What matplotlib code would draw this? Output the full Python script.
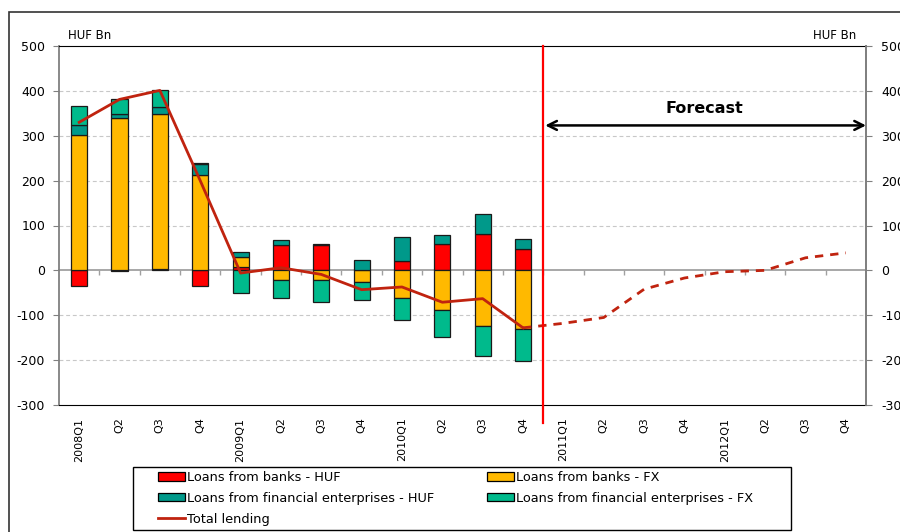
import numpy as np
import matplotlib.pyplot as plt
from matplotlib.patches import Patch, Rectangle
from matplotlib.lines import Line2D

# 四半期ラベル (2008Q1〜2012Q4)
quarters = ["2008Q1", "Q2", "Q3", "Q4", "2009Q1", "Q2", "Q3", "Q4",
            "2010Q1", "Q2", "Q3", "Q4", "2011Q1", "Q2", "Q3", "Q4",
            "2012Q1", "Q2", "Q3", "Q4"]

# 実績 (2008Q1〜2010Q4), HUF Bn
bank_huf = [-35, -2, 3, -35, 8, 56, 56, 0, 21, 58, 80, 48]
bank_fx = [301, 339, 345, 212, 21, -22, -22, -27, -61, -89, -124, -130]
fin_huf = [24, 10, 15, 25, 12, 12, 3, 23, 53, 20, 45, 22]
fin_fx = [41, 33, 38, 2, -50, -40, -48, -39, -50, -60, -66, -71]
total_actual = [330, 381, 401, 200, -6, 6, -9, -43, -37, -71, -63, -128]

# 予測 (2010Q4〜2012Q4)
total_forecast = [-128, -118, -105, -42, -17, -3, 0, 28, 39]

series = [
    ("Loans from banks - HUF", bank_huf, "#FF0000"),
    ("Loans from banks - FX", bank_fx, "#FFB900"),
    ("Loans from financial enterprises - HUF", fin_huf, "#00998A"),
    ("Loans from financial enterprises - FX", fin_fx, "#00BA8C"),
]
total_color = "#C0230F"

plt.rcParams["font.family"] = ["DejaVu Sans"]
plt.rcParams["axes.unicode_minus"] = False

fig = plt.figure(figsize=(9, 5.32), dpi=100, facecolor="white")
ax = fig.add_axes([59 / 900, 1 - 405 / 532, 807 / 900, 359 / 532])

n_all = len(quarters)
n_act = len(total_actual)
x = np.arange(n_all)
xa = np.arange(n_act)

# 積み上げ棒 (正負を別々に積む)
pos_bottom = np.zeros(n_act)
neg_bottom = np.zeros(n_act)
for name, vals, col in series:
    v = np.array(vals, dtype=float)
    bottom = np.where(v >= 0, pos_bottom, neg_bottom)
    ax.bar(xa, v, width=0.4, bottom=bottom, color=col,
           edgecolor="#1a1a1a", linewidth=0.9, zorder=2)
    pos_bottom += np.where(v > 0, v, 0)
    neg_bottom += np.where(v < 0, v, 0)

# 合計の線
ax.plot(xa, total_actual, color=total_color, lw=2, zorder=3)
xf = np.arange(n_act - 1, n_all)
ax.plot(xf, total_forecast, color=total_color, lw=2,
        linestyle=(0, (3, 2.5)), zorder=3)

ax.set_xlim(-0.5, n_all - 0.5)
ax.set_ylim(-300, 500)
ax.set_yticks(np.arange(-300, 501, 100))

# グリッド
for yv in range(-200, 500, 100):
    if yv != 0:
        ax.axhline(yv, color="#C8C8C8", lw=0.8, linestyle=(0, (3.5, 2.5)), zorder=0)

# ゼロ線と区切りの目盛り
zero_ax = ax.secondary_xaxis(300 / 800)
zero_ax.set_xticks(np.arange(0.5, n_all - 1, 1.0))
zero_ax.set_xticklabels([])
zero_ax.tick_params(axis="x", direction="out", length=3.5, color="#A0A0A0", width=1)
zero_ax.spines["bottom"].set_color("#A0A0A0")
zero_ax.spines["bottom"].set_linewidth(1.3)

# 軸
ax.set_xticks(x)
ax.set_xticklabels(quarters, rotation=90, fontsize=8)
ax.tick_params(axis="x", length=0, pad=9)
ax.tick_params(axis="y", direction="out", length=4, color="#808080",
               labelsize=9, pad=6)
ax.spines["top"].set_color("black")
ax.spines["bottom"].set_color("black")
ax.spines["left"].set_color("#808080")
ax.spines["right"].set_color("#808080")
ax.spines["left"].set_linewidth(1.3)
ax.spines["right"].set_linewidth(1.3)

ax2 = ax.twinx()
ax2.set_ylim(-300, 500)
ax2.set_yticks(np.arange(-300, 501, 100))
ax2.tick_params(axis="y", direction="out", length=4, color="#808080",
                labelsize=9, pad=7)
for s in ["top", "bottom", "left"]:
    ax2.spines[s].set_visible(False)
ax2.spines["right"].set_color("#808080")
ax2.spines["right"].set_linewidth(1.3)

# 予測期間
split_x = n_act - 0.5
ax.axvline(split_x, ymin=-0.049, ymax=1, color="#FF0000", lw=1.6,
           clip_on=False, zorder=4)
ax.annotate("", xy=(1.0, 323), xycoords=("axes fraction", "data"),
            xytext=(split_x + 0.05, 323), textcoords="data",
            arrowprops=dict(arrowstyle="<->", lw=1.8, color="black",
                            shrinkA=0, shrinkB=0, mutation_scale=16))
ax.text((split_x + n_all - 0.5) / 2, 361, "Forecast", ha="center", va="center",
        fontsize=11.5, fontweight="bold")

fig.text(68 / 900, 1 - 35.5 / 532, "HUF Bn", fontsize=8.5, ha="left", va="center")
fig.text(856 / 900, 1 - 35.5 / 532, "HUF Bn", fontsize=8.5, ha="right", va="center")

# 外枠
fig.add_artist(Rectangle((9 / 900, -0.5), 2, 1 - 12 / 532 + 0.5,
                         transform=fig.transFigure, fill=False,
                         ec="#333333", lw=1.2))

# 凡例
handles = [Patch(facecolor=series[0][2], edgecolor="black", lw=0.9),
           Patch(facecolor=series[2][2], edgecolor="black", lw=0.9),
           Line2D([], [], color=total_color, lw=2),
           Patch(facecolor=series[1][2], edgecolor="black", lw=0.9),
           Patch(facecolor=series[3][2], edgecolor="black", lw=0.9)]
labels = [series[0][0], series[2][0], "Total lending", series[1][0], series[3][0]]
fig.add_artist(Rectangle((133 / 900, 1 - 530 / 532), 658 / 900, 63 / 532,
                         transform=fig.transFigure, fill=False, ec="black", lw=1))
fig.legend(handles, labels, loc="upper left", bbox_to_anchor=(158 / 900, 1 - 471 / 532),
           ncol=2, frameon=False, borderpad=0, borderaxespad=0, fontsize=9.3,
           handlelength=2.1, handleheight=0.6, handletextpad=0.15,
           columnspacing=4.1, labelspacing=0.6)

fig.savefig("out.png", dpi=100)
